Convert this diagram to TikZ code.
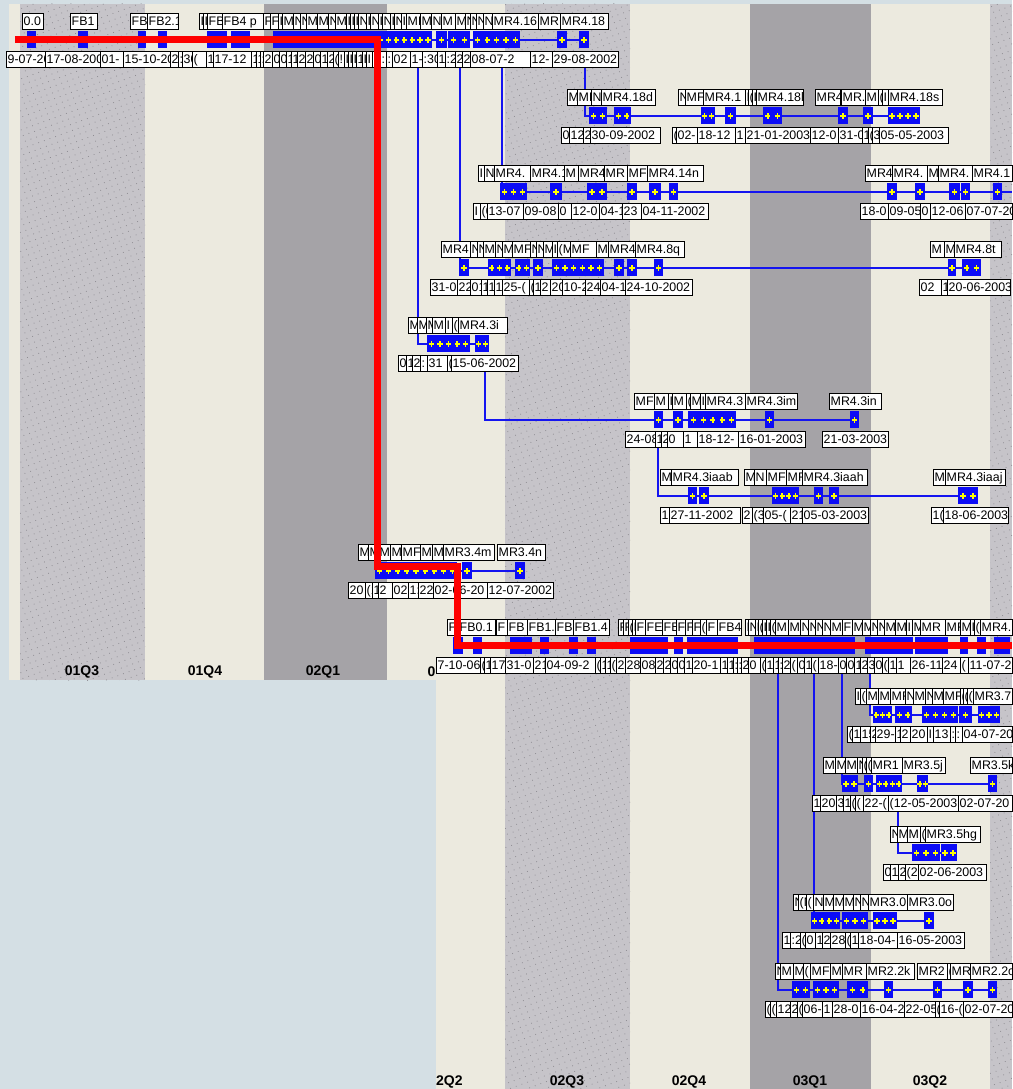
\documentclass[tikz,border=0pt]{standalone}
\usepackage{fontspec}
\setmainfont{Liberation Sans}
\usetikzlibrary{patterns.meta}
\definecolor{bgblue}{HTML}{D4DFE4}
\definecolor{beige}{HTML}{ECEADF}
\definecolor{lgray}{HTML}{C6C4C9}
\definecolor{dgray}{HTML}{A5A3A7}
\definecolor{dotc}{HTML}{8E8C92}
\definecolor{mblue}{HTML}{0C0CF6}
\definecolor{lineblue}{HTML}{1414F0}
\definecolor{plusy}{HTML}{FFFF00}
\definecolor{redl}{HTML}{FF0000}
\newcommand\lblfont{\fontsize{12.4}{12.4}\selectfont}
\newcommand\qfont{\fontsize{14}{14}\selectfont\bfseries}
\newcount\bxc
\tikzset{
  conn/.style={draw=lineblue,line width=1.6pt},
  boxline/.style={draw=black,line width=0.9pt},
  plusmark/.style={draw=plusy,line width=1.5pt},
  redpath/.style={draw=redl,line width=7pt},
  qlabel/.style={font=\qfont,inner sep=0pt},
  dotband/.style={pattern={Dots[distance=6pt,radius=0.55pt,angle=20]},pattern color=dotc}
}
% box with clipped text: x1, x2, y-centre, text
\newcommand\bx[4]{%
  \global\advance\bxc by 1
  \begin{scope}
    \clip (#1,#3-8) rectangle (#2,#3+8);
    \fill[white] (#1,#3-8) rectangle (#2,#3+8);
    \node[anchor=base west,inner sep=0pt,font=\lblfont] (box\the\bxc) at (#1+1.5,#3+4.3) {#4};
  \end{scope}
  \draw[boxline] (#1,#3-8) rectangle (#2,#3+8);
}
% marker: row L, x1, x2, number of plus signs
\newcommand\mk[4]{%
  \fill[mblue] (#2,#1+10) rectangle (#3,#1+27);
  \foreach \i in {1,...,#4}{\draw[plusmark] ({#2+(\i-0.5)*(#3-#2)/#4},#1+19) +(-2.6,0) -- +(2.6,0) +(0,-2.6) -- +(0,2.6);}
}
\newcommand\lbls[2]{\foreach \a/\b/\t in {#2}{\bx{\a}{\b}{#1}{\t}}}
\newcommand\dts[2]{\foreach \a/\b/\t in {#2}{\bx{\a}{\b}{#1+38.5}{\t}}}
\newcommand\mrk[2]{\foreach \a/\b/\n in {#2}{\mk{#1}{\a}{\b}{\n}}}
\begin{document}
\begin{tikzpicture}[x=1pt,y=-1pt]
\useasboundingbox (0,0) rectangle (1012,1089);
% ---------- backgrounds ----------
\fill[bgblue] (0,0) rectangle (1012,1089);
\fill[beige] (9,4) rectangle (436,680);
\fill[lgray] (20,4) rectangle (145,680);
\fill[dotband] (20,4) rectangle (145,680);
\fill[dgray] (264,4) rectangle (387,680);
\fill[beige] (436,4) rectangle (1012,1089);
\fill[lgray] (505,4) rectangle (630,1089);
\fill[dotband] (505,4) rectangle (630,1089);
\fill[dgray] (750,4) rectangle (871,1089);
\fill[lgray] (990,4) rectangle (1012,1089);
\fill[dotband] (990,4) rectangle (1012,1089);
% ---------- quarter labels ----------
\node[qlabel] (q1) at (82,672) {01Q3};
\node[qlabel] (q2) at (205,672) {01Q4};
\node[qlabel] (q3) at (323,672) {02Q1};
\node[qlabel,anchor=east] (q4) at (435.5,672) {0};
\node[qlabel,anchor=west] (q5) at (436,1082) {2Q2};
\node[qlabel] (q6) at (567,1082) {02Q3};
\node[qlabel] (q7) at (689,1082) {02Q4};
\node[qlabel] (q8) at (810,1082) {03Q1};
\node[qlabel] (q9) at (930,1082) {03Q2};
% ---------- connector coordinates ----------
\coordinate (rA0) at (15,40);   \coordinate (rA1) at (589,40);
\coordinate (vB) at (585,67);   \coordinate (eB) at (920,116);
\coordinate (vC) at (502,67);   \coordinate (eC) at (1012,192);
\coordinate (vD) at (460,67);   \coordinate (eD) at (981,268);
\coordinate (vE) at (418,67);   \coordinate (eE) at (489,344);
\coordinate (vF) at (485,371);  \coordinate (eF) at (859,420);
\coordinate (vG) at (658,447);  \coordinate (eG) at (978,496);
\coordinate (rH0) at (377,571); \coordinate (rH1) at (525,571);
\coordinate (rI0) at (457,646); \coordinate (rI1) at (1012,646);
\coordinate (vJ) at (870,673);  \coordinate (eJ) at (1000,715);
\coordinate (vK) at (842,673);  \coordinate (eK) at (997,784);
\coordinate (vM) at (814,673);  \coordinate (eM) at (934,921);
\coordinate (vN) at (778,673);  \coordinate (eN) at (997,990);
\coordinate (vL) at (898,810);  \coordinate (eL) at (957,853);
\draw[conn] (rA0) -- (rA1);
\draw[conn] (vB) |- (eB);
\draw[conn] (vC) |- (eC);
\draw[conn] (vD) |- (eD);
\draw[conn] (vE) |- (eE);
\draw[conn] (vF) |- (eF);
\draw[conn] (vG) |- (eG);
\draw[conn] (rH0) -- (rH1);
\draw[conn] (rI0) -- (rI1);
\draw[conn] (vJ) |- (eJ);
\draw[conn] (vK) |- (eK);
\draw[conn] (vM) |- (eM);
\draw[conn] (vN) |- (eN);
\draw[conn] (vL) |- (eL);
% ---------- Row A ----------
\mrk{21}{27/36/1, 78/88/1, 138/146/1, 158/167/1, 207/227/2, 231/250/2, 273/432/20, 436/447/1, 448/470/2, 473/520/5, 557/567/1, 579/589/1}
\lbls{21}{22/43/0.0, 70/97/FB1, 130/147/FB, 147/178/FB2.1, 199/203/I, 203/207/I, 207/222/FB, 222/263/FB4 p, 263/270/F, 270/278/F, 278/282/I, 282/293/M, 293/300/N, 300/306/N, 306/317/M, 317/328/M, 328/335/N, 335/346/M, 346/350/I, 350/354/I, 354/358/I, 358/366/N, 366/370/I, 370/378/N, 378/382/I, 382/390/N, 390/394/I, 394/401/N, 401/406/I, 406/420/MF, 420/431/M, 431/441/N, 441/455/M, 455/465/M, 465/470/N, 470/476/N, 476/483/N, 483/492/N, 492/538/MR4.16, 538/560/MR, 560/608/MR4.18}
\dts{21}{6/45/9-07-20, 45/100/17-08-200, 100/123/01-, 123/170/15-10-20, 170/178/2, 178/182/:, 182/192/30, 192/206/(, 206/213/1, 213/251/17-12, 251/256/1, 256/260/1, 260/263/:, 263/272/2, 272/279/0, 279/286/0, 286/291/1, 291/297/1, 297/305/2, 305/313/2, 313/320/0, 320/327/1, 327/333/2, 333/338/(, 338/344/!, 344/348/I, 348/352/I, 352/356/I, 356/362/1, 362/366/I, 366/372/I, 372/380/1, 380/386/:, 386/392/:, 392/410/02, 410/422/1-2, 422/437/:30, 437/445/1, 445/455/:2, 455/462/2, 462/470/20, 470/530/08-07-2, 530/552/12-, 552/618/29-08-2002}
% ---------- Row B ----------
\mrk{97}{589/607/2, 614/631/2, 701/715/2, 725/736/1, 763/782/2, 838/848/1, 863/873/1, 888/920/4}
\lbls{97}{567/577/M, 577/591/MF, 591/601/N, 601/655/MR4.18d, 678/685/N, 685/703/MF, 703/745/MR4.1, 745/748/I, 748/752/(, 752/756/I, 756/803/MR4.18l, 815/840/MR4, 841/865/MR., 865/878/M, 878/882/(, 882/888/I, 888/942/MR4.18s}
\dts{97}{561/569/0, 569/583/12, 583/590/2, 590/660/30-09-2002, 672/676/(, 676/697/02-, 697/735/18-12, 735/745/1, 745/810/21-01-2003, 810/838/12-0, 838/862/31-0, 862/868/1, 868/872/(, 872/879/3, 879/948/05-05-2003}
% ---------- Row C ----------
\mrk{173}{500/527/3, 550/562/1, 587/607/2, 627/637/1, 649/661/1, 669/678/1, 887/897/1, 915/925/1, 949/960/1, 961/970/1, 993/1002/1}
\lbls{173}{478/484/I, 484/494/N, 494/530/MR4., 530/564/MR4.1, 564/578/M, 578/604/MR4, 604/627/MR, 627/647/MF, 647/703/MR4.14n, 865/892/MR4, 892/927/MR4., 927/938/M, 938/972/MR4., 972/1012/MR4.1}
\dts{173}{473/480/I, 480/487/(0, 487/523/13-07, 523/558/09-08, 558/571/0, 571/599/12-0, 599/622/04-1, 622/641/23, 641/708/04-11-2002, 860/888/18-0, 888/920/09-05, 920/930/0, 930/965/12-06, 965/1012/07-07-20}
% ---------- Row D ----------
\mrk{249}{459/469/1, 488/511/3, 515/530/2, 533/543/1, 552/604/6, 614/624/1, 627/637/1, 654/663/1, 948/956/1, 962/981/2}
\lbls{249}{441/470/MR4, 470/477/N, 477/483/N, 483/495/M, 495/502/N, 502/512/M, 512/530/MF, 530/536/N, 536/543/N, 543/552/M, 552/557/I, 557/570/(M, 570/596/MF, 596/608/M, 608/635/MR4, 635/684/MR4.8q, 930/944/M, 944/954/M, 954/1001/MR4.8t}
\dts{249}{430/457/31-0, 457/470/22, 470/481/01, 481/487/1, 487/494/1, 494/502/1(, 502/529/25-(, 529/533/(, 533/540/1, 540/550/2, 550/562/20, 562/585/10-2, 585/600/24, 600/625/04-1, 625/692/24-10-2002, 919/941/02, 941/947/1, 947/1010/20-06-2003}
% ---------- Row E ----------
\mrk{325}{427/470/5, 475/489/2}
\lbls{325}{408/417/M, 417/426/M, 426/432/M, 432/445/M, 445/452/I, 452/458/(, 458/507/MR4.3i}
\dts{325}{398/406/0, 406/412/1, 412/420/2, 420/427/:, 427/447/31, 447/451/(, 451/518/15-06-2002}
% ---------- Row F ----------
\mrk{401}{654/663/1, 673/683/1, 688/699/1, 699/736/4, 765/774/1, 850/859/1}
\lbls{401}{634/654/MF, 654/668/M, 668/672/I, 672/686/M, 686/690/(, 690/700/M, 700/705/I, 705/745/MR4.3, 745/797/MR4.3im, 829/881/MR4.3in}
\dts{401}{625/655/24-08, 655/661/1, 661/667/2, 667/683/0, 683/697/1, 697/738/18-12-, 738/805/16-01-2003, 822/888/21-03-2003}
% ---------- Row G ----------
\mrk{477}{688/697/1, 699/709/1, 772/799/4, 814/823/1, 829/839/1, 958/978/2}
\lbls{477}{660/671/M, 671/738/MR4.3iaab, 744/754/M, 754/766/N, 766/786/MF, 786/802/MF, 802/867/MR4.3iaah, 933/945/M, 945/1005/MR4.3iaaj}
\dts{477}{660/669/1(, 669/740/27-11-2002, 742/752/2, 752/763/(3, 763/790/05-(, 790/802/21, 802/868/05-03-2003, 931/943/1(, 943/1008/18-06-2003}
% ---------- Row H ----------
\mrk{552}{375/457/9, 462/472/1, 515/525/1}
\lbls{552}{358/368/M, 368/378/M, 378/390/M, 390/401/M, 401/420/MF, 420/432/M, 432/443/M, 443/494/MR3.4m, 497/545/MR3.4n}
\dts{552}{348/365/20, 365/372/(1, 372/378/1, 378/392/2, 392/408/02, 408/418/1:, 418/433/22, 433/487/02-06-20, 487/553/12-07-2002}
% ---------- Row I ----------
\mrk{627}{453/463/1, 473/482/1, 510/532/2, 540/549/1, 569/578/1, 587/596/1, 630/668/4, 674/683/1, 687/738/5, 754/855/10, 865/913/5, 915/948/3, 960/968/1, 977/986/1, 994/1010/2}
\lbls{627}{447/458/F, 458/495/FB0.1, 496/507/F, 507/527/FB, 527/555/FB1., 555/573/FB, 573/609/FB1.4, 618/623/F, 623/628/F, 628/632/(, 632/635/I, 635/645/F, 645/662/FE, 662/676/FB, 676/685/F, 685/692/F, 692/700/F, 700/706/(, 706/717/F, 717/741/FB4, 745/748/I, 748/755/N, 755/758/I, 758/762/(, 762/766/I, 766/770/I, 770/775/(, 775/788/M, 788/800/M, 800/808/N, 808/815/N, 815/822/N, 822/830/N, 830/842/M, 842/852/F, 852/862/M, 862/870/M, 870/877/N, 877/884/N, 884/895/M, 895/906/M, 906/912/I, 912/920/M, 920/945/MR, 945/960/MF, 960/970/M, 970/974/I, 974/980/(, 980/1012/MR4.}
\dts{627}{436/480/7-10-06-(, 480/484/(, 484/490/1, 490/505/17, 505/533/31-0, 533/545/21, 545/595/04-09-2, 595/600/(, 600/605/1, 605/610/1, 610/616/(, 616/625/2, 625/640/28, 640/655/08, 655/663/2, 663/670/2, 670/677/0, 677/684/0, 684/692/1, 692/720/20-1, 720/727/1, 727/733/1, 733/737/:, 737/741/:, 741/748/2, 748/760/0, 760/765/(, 765/773/1, 773/778/1, 778/782/:, 782/790/2, 790/797/(, 797/804/0, 804/811/1, 811/818/(, 818/838/18-, 838/846/0, 846/854/0, 854/860/1, 860/867/2, 867/874/3, 874/882/0, 882/888/(, 888/896/1, 896/910/1, 910/942/26-11, 942/960/24, 960/968/(, 968/1012/11-07-2}
% ---------- Row J ----------
\mrk{696}{873/892/3, 895/912/2, 922/958/4, 959/972/1, 978/1000/3}
\lbls{696}{855/860/I, 860/866/(, 866/878/M, 878/890/M, 890/905/MF, 905/913/N, 913/925/M, 925/932/N, 932/943/M, 943/960/MF, 960/963/(, 963/967/(, 967/973/(, 973/1012/MR3.7}
\dts{696}{847/852/(, 852/860/1, 860/870/15, 870/875/2, 875/895/29-, 895/900/1, 900/910/2, 910/927/20, 927/933/I, 933/950/13, 950/955/:, 955/962/:, 962/1012/04-07-20}
% ---------- Row K ----------
\mrk{765}{842/858/2, 864/873/1, 876/902/4, 917/928/2, 988/997/1}
\lbls{765}{823/835/M, 835/845/M, 845/857/M, 857/862/N, 862/866/(, 866/871/(, 871/902/MR1, 902/945/MR3.5j, 970/1012/MR3.5k}
\dts{765}{812/820/1, 820/836/20, 836/843/3, 843/850/1, 850/855/(, 855/863/(, 863/888/22-(, 888/958/(12-05-2003, 958/1012/02-07-20}
% ---------- Row L ----------
\mrk{834}{912/940/3, 941/957/2}
\lbls{834}{890/897/N, 897/907/M, 907/920/M, 920/925/(, 925/980/MR3.5hg}
\dts{834}{883/890/0, 890/898/1, 898/905/2, 905/918/(2, 918/986/02-06-2003}
% ---------- Row M ----------
\mrk{902}{811/840/4, 842/868/3, 873/897/3, 924/934/1}
\lbls{902}{793/798/N, 798/806/(N, 806/813/(, 813/823/N, 823/833/M, 833/843/M, 843/853/M, 853/860/N, 860/868/N, 868/907/MR3.0, 907/953/MR3.0o}
\dts{902}{782/790/1, 790/800/:2, 800/805/(, 805/815/0, 815/822/1, 822/830/2, 830/845/28, 845/850/(, 850/858/1, 858/897/18-04-, 897/964/16-05-2003}
% ---------- Row N ----------
\mrk{971}{792/810/2, 813/839/3, 847/868/2, 884/893/1, 933/942/1, 963/973/1, 988/997/1}
\lbls{971}{775/780/N, 780/793/M, 793/803/M, 803/810/(, 810/830/MF, 830/842/M, 842/866/MR, 866/914/MR2.2k, 917/947/MR2, 947/950/(, 950/970/MR, 970/1012/MR2.2o}
\dts{971}{765/770/(, 770/776/(, 776/790/12, 790/797/2, 797/802/(, 802/822/06-, 822/832/1, 832/860/28-0, 860/904/16-04-2, 904/935/22-05, 935/939/(, 939/963/16-(, 963/1012/02-07-20}
% ---------- red critical path ----------
\coordinate (p0) at (15,40);
\coordinate (p1) at (377,40);
\coordinate (p2) at (377,566);
\coordinate (p3) at (457,566);
\coordinate (p4) at (457,645);
\coordinate (p5) at (1012,645);
\draw[redpath] (p0) -- (p1) -- (p2) -- (p3) -- (p4) -- (p5);
\end{tikzpicture}
\end{document}
